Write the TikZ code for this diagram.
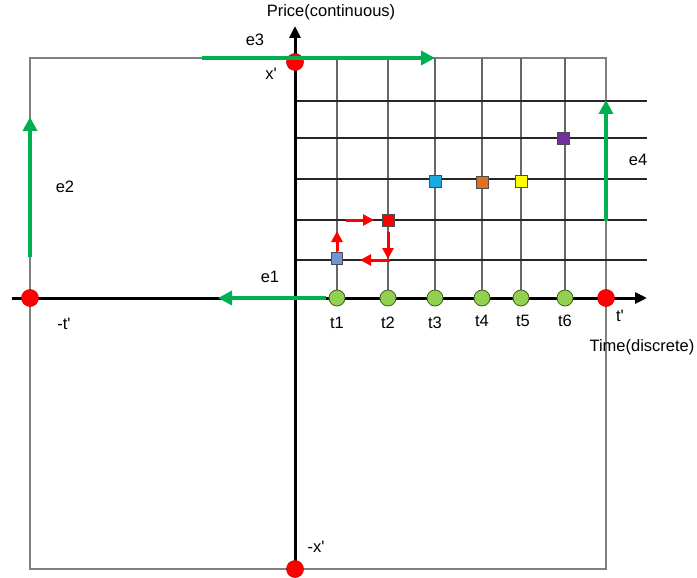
\documentclass[tikz,border=0pt]{standalone}
\usepackage{fontspec}
\setmainfont{Liberation Sans}
\usetikzlibrary{arrows.meta}
\definecolor{garrow}{HTML}{00B050}
\definecolor{gdotc}{HTML}{92D050}
\definecolor{sqblue}{HTML}{6F95D4}
\definecolor{sqcyan}{HTML}{1CA8E0}
\definecolor{sqorange}{HTML}{E0701A}
\definecolor{sqyellow}{HTML}{FFFF00}
\definecolor{sqpurple}{HTML}{7030A0}
\newcommand{\pr}{\textquotesingle}
\begin{document}
\begin{tikzpicture}[x=1pt,y=-1pt,
  lbl/.style={font=\fontsize{16.5}{19}\selectfont, inner sep=0pt},
  outer/.style={draw=black!50, line width=1.2pt},
  gridv/.style={draw=black!60, line width=1.1pt},
  gridh/.style={draw=black!85, line width=1.1pt},
  axis/.style={draw=black, line width=3pt, -{Triangle[length=12pt,width=11pt]}},
  garr/.style={draw=garrow, line width=3.8pt, -{Triangle[length=14pt,width=14pt]}},
  rarr/.style={draw=red, line width=3pt, -{Triangle[length=11pt,width=11pt]}},
  gdot/.style={circle, fill=gdotc, draw=black!55!gdotc, line width=0.8pt, minimum size=16pt, inner sep=0pt},
  rdot/.style={circle, fill=red, draw=red!80!black, line width=0.6pt, minimum size=17pt, inner sep=0pt},
  sq/.style={rectangle, draw=black!70, line width=0.9pt, minimum size=12pt, inner sep=0pt}
]
\useasboundingbox (0,0) rectangle (697,578);
% outer frame
\draw[outer] (30,58) rectangle (606,569);
% grid verticals
\foreach \x in {337,388,435,482,521,565}
  \draw[gridv] (\x,58) -- (\x,298);
% grid horizontals
\foreach \y in {101,138,179,220,260}
  \draw[gridh] (295,\y) -- (647,\y);
% axes
\coordinate (vb) at (295,569);
\coordinate (vt) at (295,26);
\coordinate (hl) at (12,298);
\coordinate (hr) at (647,298);
\draw[axis] (vb) -- (vt);
\draw[axis] (hl) -- (hr);
% green arrows
\coordinate (e3s) at (202,58);
\coordinate (e3e) at (435,58);
\coordinate (e1s) at (326,298);
\coordinate (e1e) at (218,298);
\coordinate (e2s) at (30,257);
\coordinate (e2e) at (30,117);
\coordinate (e4s) at (606,221);
\coordinate (e4e) at (606,100);
% circles
\node[rdot] (rT) at (295,62) {};
\node[rdot] (rB) at (295,569) {};
\node[rdot] (rL) at (30,298) {};
\node[rdot] (rR) at (606,298) {};
\node[gdot] (g1) at (337,298) {};
\node[gdot] (g2) at (388,298) {};
\node[gdot] (g3) at (435,298) {};
\node[gdot] (g4) at (482,298) {};
\node[gdot] (g5) at (521,298) {};
\node[gdot] (g6) at (565,298) {};
\draw[garr] (e3s) -- (e3e);
\draw[garr] (e1s) -- (e1e);
\draw[garr] (e2s) -- (e2e);
\draw[garr] (e4s) -- (e4e);
% squares
\node[sq, fill=sqblue, minimum width=11pt] (s1) at (337,258) {};
\node[sq, fill=red] (s2) at (388,220) {};
\node[sq, fill=sqcyan] (s3) at (435,181) {};
\node[sq, fill=sqorange] (s4) at (482,182) {};
\node[sq, fill=sqyellow] (s5) at (521,181) {};
\node[sq, fill=sqpurple] (s6) at (563,138) {};
% red arrows
\coordinate (r1s) at (337,251);
\coordinate (r1e) at (337,231);
\coordinate (r2s) at (346,220);
\coordinate (r2e) at (374,220);
\coordinate (r3s) at (388,232);
\coordinate (r3e) at (388,259);
\coordinate (r4s) at (390,260);
\coordinate (r4e) at (360,260);
\draw[rarr] (r1s) -- (r1e);
\draw[rarr] (r2s) -- (r2e);
\draw[rarr] (r3s) -- (r3e);
\draw[rarr] (r4s) -- (r4e);
% labels
\node[lbl] (price) at (331,12) {Price(continuous)};
\node[lbl] (le3) at (255,40) {e3};
\node[lbl] (lx) at (271,74) {x\pr};
\node[lbl] (le2) at (65,187) {e2};
\node[lbl] (le1) at (270,277) {e1};
\node[lbl] (lmt) at (64,324) {-t\pr};
\node[lbl] (lt1) at (337,323) {t1};
\node[lbl] (lt2) at (388,323) {t2};
\node[lbl] (lt3) at (435,323) {t3};
\node[lbl] (lt4) at (482,321) {t4};
\node[lbl] (lt5) at (523,321) {t5};
\node[lbl] (lt6) at (565,321) {t6};
\node[lbl] (ltp) at (620,316) {t\pr};
\node[lbl] (time) at (642,347) {Time(discrete)};
\node[lbl] (le4) at (638,160) {e4};
\node[lbl] (lmx) at (316,547) {-x\pr};
\end{tikzpicture}
\end{document}
